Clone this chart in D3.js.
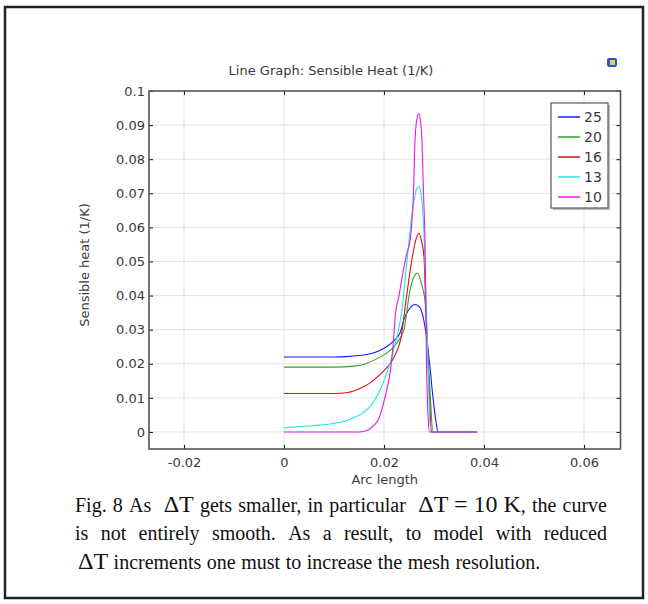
<!DOCTYPE html>
<html>
<head>
<meta charset="utf-8">
<script src="https://cdn.jsdelivr.net/npm/d3@7"></script>
<style>
  body { margin: 0; background: #fff; }
  .tick text { font-family: 'DejaVu Sans', sans-serif; font-size: 13px; fill: #3a3a3a; }
  .grid line { stroke: #e2e2e2; stroke-width: 1; }
  .line-plot { fill: none; stroke-width: 1.1; }
  .axis-label { font-family: 'DejaVu Sans', sans-serif; font-size: 13px; fill: #3a3a3a; }
  .caption { font-family: 'Liberation Serif', 'Times New Roman', serif; fill: #111; }
</style>
</head>
<body>
<svg width="648" height="604"></svg>
<script>
var svg = d3.select('svg');

// tick labels
var xTicks = [-0.02, 0, 0.02, 0.04, 0.06];
var yTicks = [0, 0.01, 0.02, 0.03, 0.04, 0.05, 0.06, 0.07, 0.08, 0.09, 0.1];

// legend / series names (Delta T in K)
var seriesNames = ['25', '20', '16', '13', '10'];
var seriesColors = ['#1a1aff', '#2aa52a', '#dd1111', '#22e5e5', '#e51ae5'];

// arc length and sensible heat
var arc25  = [0, 0.005, 0.010, 0.0125, 0.015, 0.0175, 0.019, 0.0205, 0.0220, 0.0232, 0.0240, 0.0250, 0.0262, 0.0270, 0.0277, 0.0282, 0.0286, 0.0292, 0.0298, 0.0304, 0.0308, 0.0386];
var heat25 = [0.0220, 0.0220, 0.0220, 0.0221, 0.0224, 0.0230, 0.0238, 0.0250, 0.0268, 0.0290, 0.0330, 0.0360, 0.0374, 0.0368, 0.0345, 0.0308, 0.0270, 0.0190, 0.0100, 0.0030, 0, 0];

var arc20  = [0, 0.010, 0.0140, 0.0165, 0.019, 0.0213, 0.0230, 0.0240, 0.0252, 0.0260, 0.0267, 0.0275, 0.0282, 0.0287, 0.0292, 0.0298, 0.0386];
var heat20 = [0.0190, 0.0190, 0.0193, 0.0201, 0.0218, 0.0240, 0.0270, 0.0300, 0.0415, 0.0455, 0.0466, 0.0434, 0.0385, 0.0250, 0.0120, 0, 0];

var arc16  = [0, 0.010, 0.0125, 0.0153, 0.0175, 0.0187, 0.0200, 0.0213, 0.0225, 0.0233, 0.0245, 0.0252, 0.0259, 0.0265, 0.0270, 0.0275, 0.0280, 0.0283, 0.0287, 0.0291, 0.0295, 0.0386];
var heat16 = [0.0113, 0.0113, 0.0115, 0.0128, 0.0147, 0.0162, 0.0180, 0.0201, 0.0235, 0.0269, 0.0396, 0.0470, 0.0532, 0.0570, 0.0583, 0.0560, 0.0512, 0.0396, 0.0250, 0.0100, 0, 0];

var arc13  = [0, 0.0032, 0.0070, 0.0099, 0.0125, 0.0145, 0.0160, 0.0172, 0.0182, 0.0192, 0.0202, 0.0212, 0.0220, 0.0229, 0.0236, 0.0242, 0.0250, 0.0258, 0.0265, 0.0270, 0.0275, 0.0280, 0.0284, 0.0288, 0.0293, 0.0386];
var heat13 = [0.0012, 0.0016, 0.0020, 0.0025, 0.0033, 0.0045, 0.0058, 0.0074, 0.0095, 0.0123, 0.0158, 0.0201, 0.0245, 0.0298, 0.0360, 0.0444, 0.0560, 0.0660, 0.0712, 0.0720, 0.0690, 0.0580, 0.0400, 0.0200, 0, 0];

var arc10  = [0, 0.0150, 0.0168, 0.0180, 0.0190, 0.0197, 0.0205, 0.0213, 0.0218, 0.0223, 0.0230, 0.0237, 0.0245, 0.0253, 0.0259, 0.0262, 0.0266, 0.0270, 0.0273, 0.0276, 0.0279, 0.0282, 0.0285, 0.0288, 0.0291, 0.0386];
var heat10 = [0, 0, 0.0006, 0.0020, 0.0040, 0.0074, 0.0120, 0.0182, 0.0250, 0.0347, 0.0400, 0.0460, 0.0520, 0.0570, 0.0705, 0.0854, 0.0920, 0.0934, 0.0910, 0.0854, 0.0700, 0.0559, 0.0201, 0.0050, 0, 0];

var arcs = [arc25, arc20, arc16, arc13, arc10];
var heats = [heat25, heat20, heat16, heat13, heat10];

// plot box
var plot = {l: 149, r: 620.5, t: 91, b: 449};
var plotW = plot.r - plot.l;
var plotH = plot.b - plot.t;

// outer frame of the figure
svg.append('rect')
    .attr('x', 5).attr('y', 7)
    .attr('width', 638).attr('height', 591)
    .attr('fill', 'none')
    .attr('stroke', '#222')
    .attr('stroke-width', 2.5);

var xScale = d3.scaleLinear().domain([-0.027, 0.0673]).range([0, plotW]);
var yScale = d3.scaleLinear().domain([-0.005, 0.1]).range([plotH, 0]);

var chart = svg.append('g')
    .attr('transform', 'translate(' + [plot.l, plot.t] + ')');

// grid
chart.append('g')
    .attr('class', 'grid')
    .selectAll('line.v')
    .data(xTicks)
    .enter().append('line')
    .attr('x1', d => xScale(d)).attr('x2', d => xScale(d))
    .attr('y1', 0).attr('y2', plotH);

chart.append('g')
    .attr('class', 'grid')
    .selectAll('line.h')
    .data(yTicks.filter(d => d < 0.1))
    .enter().append('line')
    .attr('y1', d => yScale(d)).attr('y2', d => yScale(d))
    .attr('x1', 0).attr('x2', plotW);

// curves
var line = d3.line()
    .x(d => xScale(d[0]))
    .y(d => yScale(d[1]))
    .curve(d3.curveMonotoneX);

chart.selectAll('.line-plot')
    .data(seriesNames)
    .enter()
    .append('path')
    .attr('class', 'line-plot')
    .attr('d', function(d, i) {
        return line(arcs[i].map((a, j) => [a, heats[i][j]]));
    })
    .style('stroke', (d, i) => seriesColors[i]);

// axes with inward ticks
var fmt = d => String(+d.toFixed(2));

chart.append('g')
    .call(d3.axisLeft(yScale).tickValues(yTicks).tickSize(-4).tickSizeOuter(0).tickPadding(4).tickFormat(fmt))
    .call(g => g.select('.domain').remove());

chart.append('g')
    .attr('transform', 'translate(0,' + plotH + ')')
    .call(d3.axisBottom(xScale).tickValues(xTicks).tickSize(-4).tickSizeOuter(0).tickPadding(9).tickFormat(fmt))
    .call(g => g.select('.domain').remove());

chart.append('g')
    .call(d3.axisTop(xScale).tickValues(xTicks).tickSize(-4).tickSizeOuter(0).tickFormat(''))
    .call(g => g.select('.domain').remove());

chart.append('g')
    .attr('transform', 'translate(' + plotW + ',0)')
    .call(d3.axisRight(yScale).tickValues(yTicks).tickSize(-4).tickSizeOuter(0).tickFormat(''))
    .call(g => g.select('.domain').remove());

chart.selectAll('.tick line').attr('stroke', '#111');

chart.append('rect')
    .attr('width', plotW).attr('height', plotH)
    .attr('fill', 'none')
    .attr('stroke', '#555')
    .attr('stroke-width', 1.6);

// legend
var legend = svg.append('g').attr('transform', 'translate(551,103)');
legend.append('rect')
    .attr('x', 2).attr('y', 2).attr('width', 57).attr('height', 105)
    .attr('fill', '#bbb');
legend.append('rect')
    .attr('width', 57).attr('height', 105)
    .attr('fill', '#fff')
    .attr('stroke', '#666')
    .attr('stroke-width', 1.3);
var items = legend.selectAll('.item')
    .data(seriesNames)
    .enter().append('g')
    .attr('transform', (d, i) => 'translate(0,' + (14 + i * 20) + ')');
items.append('line')
    .attr('x1', 7).attr('x2', 29)
    .attr('stroke', (d, i) => seriesColors[i])
    .attr('stroke-width', 1.5);
items.append('text')
    .attr('x', 33).attr('dy', '0.36em')
    .attr('class', 'axis-label')
    .style('font-size', '14px')
    .text(d => d);

// title, axis labels
svg.append('text')
    .attr('class', 'axis-label')
    .attr('x', 331).attr('y', 75)
    .attr('text-anchor', 'middle')
    .text('Line Graph: Sensible Heat (1/K)');

svg.append('text')
    .attr('class', 'axis-label')
    .attr('transform', 'translate(89,265) rotate(-90)')
    .attr('text-anchor', 'middle')
    .text('Sensible heat (1/K)');

svg.append('text')
    .attr('class', 'axis-label')
    .attr('x', (plot.l + plot.r) / 2).attr('y', 484)
    .attr('text-anchor', 'middle')
    .text('Arc length');

// little export icon
svg.append('rect')
    .attr('x', 607).attr('y', 58).attr('width', 10).attr('height', 9).attr('rx', 2)
    .attr('fill', '#2b55c9');
svg.append('rect')
    .attr('x', 610).attr('y', 60).attr('width', 5).attr('height', 5)
    .attr('fill', '#e8d23a');

// caption, justified like the paper; the Delta T pieces get a wider gap before them
var small = 20, big = 24;
var captionLines = [
    {y: 512, x0: 75, x1: 607, justify: true, words: [
        [['Fig.']], [['8']], [['As']], [['\u0394T', big]], [['gets']], [['smaller,']], [['in']], [['particular']],
        [['\u0394T = 10 K', big], [',']], [['the']], [['curve']]]},
    {y: 540, x0: 75, x1: 607, justify: true, words:
        'is not entirely smooth. As a result, to model with reduced'.split(' ').map(w => [[w]])},
    {y: 569, x0: 78, x1: 607, justify: false, words:
        [[['\u0394T', big]]].concat('increments one must to increase the mesh resolution.'.split(' ').map(w => [[w]]))}
];

captionLines.forEach(function(ln) {
    var nodes = ln.words.map(function(runs) {
        var t = svg.append('text').attr('class', 'caption').attr('y', ln.y);
        runs.forEach(function(r) {
            t.append('tspan').style('font-size', (r[1] || small) + 'px').text(r[0]);
        });
        return t;
    });
    var widths = nodes.map(t => t.node().getComputedTextLength());
    var weights = ln.words.map(runs => runs[0][1] ? 2 : 1);
    var total = d3.sum(widths);
    var unit = ln.justify ? Math.max(3, (ln.x1 - ln.x0 - total) / (d3.sum(weights) - weights[0])) : 5.5;
    var x = ln.x0;
    nodes.forEach(function(t, i) {
        if (i > 0) x += unit * weights[i];
        t.attr('x', x);
        x += widths[i];
    });
});
</script>
</body>
</html>
